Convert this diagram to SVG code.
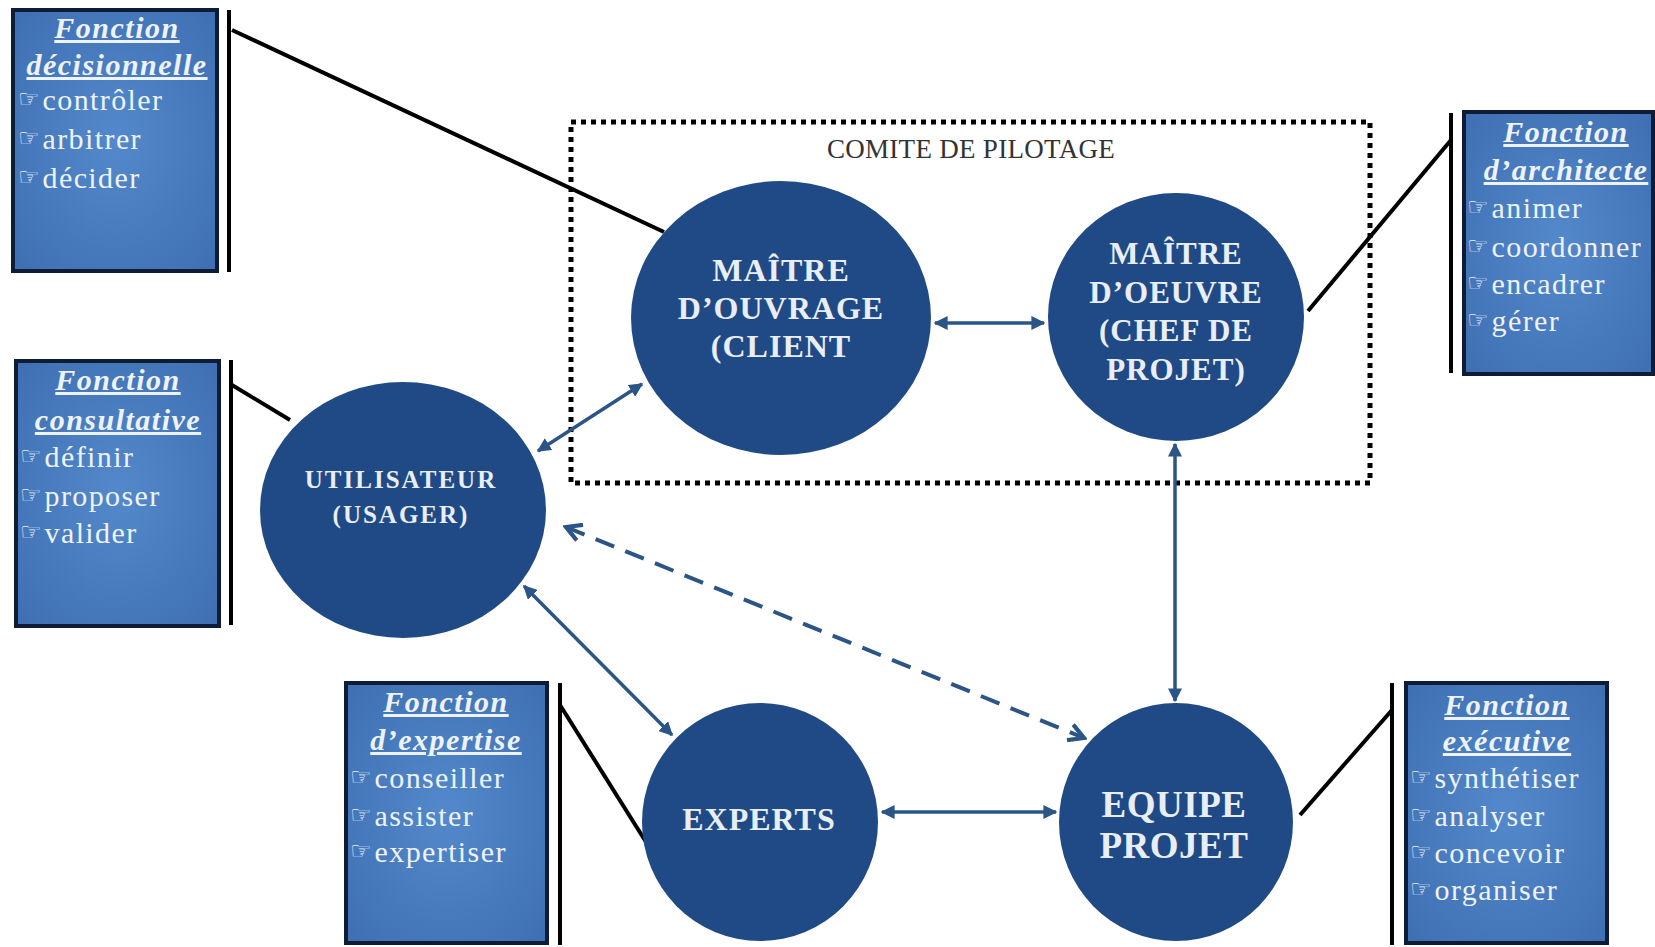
<svg xmlns="http://www.w3.org/2000/svg" width="1655" height="947" viewBox="0 0 1655 947">
<style>
.box{fill:url(#bg);stroke:#0e1c36;stroke-width:4}
.vl{stroke:#000;stroke-width:4}
.blk{stroke:#000;stroke-width:4;fill:none}
.node{fill:#1f4a85}
.ttl{font-family:"Liberation Serif",serif;font-size:30px;font-weight:bold;font-style:italic;fill:#eef3fa;text-decoration:underline;text-anchor:middle;letter-spacing:1.5px}
.itm{font-family:"Liberation Serif",serif;font-size:30px;fill:#eef3fa;letter-spacing:1.4px}
.ic{font-family:"DejaVu Sans",sans-serif;font-size:24px;fill:#eef3fa;letter-spacing:0}
.ct{font-family:"Liberation Serif",serif;font-weight:bold;fill:#e9eef6;text-anchor:middle}
.arr{stroke:#2b5586;stroke-width:3.5;fill:none;marker-start:url(#ah);marker-end:url(#ah)}
.dash{stroke:#2b5586;stroke-width:4;fill:none;stroke-dasharray:20 12;marker-start:url(#oh);marker-end:url(#oh)}
</style>
<defs>
<radialGradient id="bg" cx="50%" cy="50%" r="70%">
<stop offset="0" stop-color="#5389cc"/>
<stop offset="1" stop-color="#3e6fb2"/>
</radialGradient>
<marker id="ah" viewBox="0 0 10 10" refX="9" refY="5" markerWidth="4" markerHeight="4" orient="auto-start-reverse">
<path d="M0,0 L10,5 L0,10 z" fill="#2b5586"/>
</marker>
<marker id="oh" viewBox="0 0 12 12" refX="10" refY="6" markerWidth="5" markerHeight="5" orient="auto-start-reverse">
<path d="M1,1 L10,6 L1,11" fill="none" stroke="#2b5586" stroke-width="2.5"/>
</marker>
</defs>
<rect width="1655" height="947" fill="#fff"/>

<g id="comite">
<rect x="571" y="122" width="799" height="361" fill="none" stroke="#000" stroke-width="5" stroke-dasharray="5 5"/>
<text x="971" y="158" font-family="Liberation Serif, serif" font-size="27" fill="#333" text-anchor="middle" letter-spacing="0.3">COMITE DE PILOTAGE</text>
</g>

<g id="connectors">
<line class="blk" x1="232" y1="30" x2="664" y2="232"/>
<line class="blk" x1="232" y1="385" x2="290" y2="420"/>
<line class="blk" x1="1451" y1="140" x2="1308" y2="311"/>
<line class="blk" x1="560" y1="705" x2="646" y2="842"/>
<line class="blk" x1="1392" y1="710" x2="1300" y2="815"/>
<line class="arr" x1="935" y1="323" x2="1044" y2="323"/>
<line class="arr" x1="538" y1="451" x2="642" y2="384"/>
<line class="arr" x1="524" y1="586" x2="672" y2="735"/>
<line class="arr" x1="882" y1="812" x2="1056" y2="812"/>
<line class="arr" x1="1175" y1="701" x2="1175" y2="444"/>
<line class="dash" x1="566" y1="527" x2="1084" y2="738"/>
</g>

<g id="n-mo">
<ellipse class="node" cx="781" cy="318" rx="150" ry="137"/>
<text class="ct" font-size="32" letter-spacing="1"><tspan x="781" y="281">MAÎTRE</tspan><tspan x="781" y="319">D’OUVRAGE</tspan><tspan x="781" y="357">(CLIENT</tspan></text>
</g>
<g id="n-moe">
<ellipse class="node" cx="1176" cy="317" rx="128" ry="124"/>
<text class="ct" font-size="31" letter-spacing="1"><tspan x="1176" y="264">MAÎTRE</tspan><tspan x="1176" y="303">D’OEUVRE</tspan><tspan x="1176" y="341">(CHEF DE</tspan><tspan x="1176" y="380">PROJET)</tspan></text>
</g>
<g id="n-util">
<ellipse class="node" cx="403" cy="510" rx="143" ry="128"/>
<text class="ct" font-size="25" letter-spacing="2"><tspan x="401" y="488">UTILISATEUR</tspan><tspan x="401" y="523">(USAGER)</tspan></text>
</g>
<g id="n-experts">
<ellipse class="node" cx="760" cy="822" rx="118" ry="119"/>
<text class="ct" font-size="32" letter-spacing="1"><tspan x="759" y="830">EXPERTS</tspan></text>
</g>
<g id="n-equipe">
<ellipse class="node" cx="1176" cy="822" rx="117" ry="119"/>
<text class="ct" font-size="37" letter-spacing="0.5"><tspan x="1174" y="817">EQUIPE</tspan><tspan x="1174" y="858">PROJET</tspan></text>
</g>

<g id="b-decision">
<rect class="box" x="13" y="10" width="204" height="261"/>
<line class="vl" x1="229" y1="10" x2="229" y2="272"/>
<text class="ttl" x="117" y="38">Fonction</text>
<text class="ttl" x="117" y="75">décisionnelle</text>
<text class="itm" x="18" y="110"><tspan class="ic" baseline-shift="3">☞</tspan><tspan dx="3">contrôler</tspan></text>
<text class="itm" x="18" y="149"><tspan class="ic" baseline-shift="3">☞</tspan><tspan dx="3">arbitrer</tspan></text>
<text class="itm" x="18" y="188"><tspan class="ic" baseline-shift="3">☞</tspan><tspan dx="3">décider</tspan></text>
</g>
<g id="b-consult">
<rect class="box" x="16" y="361" width="203" height="265"/>
<line class="vl" x1="231" y1="360" x2="231" y2="625"/>
<text class="ttl" x="118" y="390">Fonction</text>
<text class="ttl" x="118" y="430">consultative</text>
<text class="itm" x="20" y="467"><tspan class="ic" baseline-shift="3">☞</tspan><tspan dx="3">définir</tspan></text>
<text class="itm" x="20" y="506"><tspan class="ic" baseline-shift="3">☞</tspan><tspan dx="3">proposer</tspan></text>
<text class="itm" x="20" y="543"><tspan class="ic" baseline-shift="3">☞</tspan><tspan dx="3">valider</tspan></text>
</g>
<g id="b-archi">
<rect class="box" x="1464" y="112" width="189" height="262"/>
<line class="vl" x1="1451" y1="113" x2="1451" y2="373"/>
<text class="ttl" x="1566" y="142">Fonction</text>
<text class="ttl" x="1566" y="180">d’architecte</text>
<text class="itm" x="1467" y="218"><tspan class="ic" baseline-shift="3">☞</tspan><tspan dx="3">animer</tspan></text>
<text class="itm" x="1467" y="257"><tspan class="ic" baseline-shift="3">☞</tspan><tspan dx="3">coordonner</tspan></text>
<text class="itm" x="1467" y="294"><tspan class="ic" baseline-shift="3">☞</tspan><tspan dx="3">encadrer</tspan></text>
<text class="itm" x="1467" y="331"><tspan class="ic" baseline-shift="3">☞</tspan><tspan dx="3">gérer</tspan></text>
</g>
<g id="b-expert">
<rect class="box" x="346" y="683" width="201" height="260"/>
<line class="vl" x1="560" y1="683" x2="560" y2="945"/>
<text class="ttl" x="446" y="712">Fonction</text>
<text class="ttl" x="446" y="750">d’expertise</text>
<text class="itm" x="350" y="788"><tspan class="ic" baseline-shift="3">☞</tspan><tspan dx="3">conseiller</tspan></text>
<text class="itm" x="350" y="826"><tspan class="ic" baseline-shift="3">☞</tspan><tspan dx="3">assister</tspan></text>
<text class="itm" x="350" y="862"><tspan class="ic" baseline-shift="3">☞</tspan><tspan dx="3">expertiser</tspan></text>
</g>
<g id="b-exec">
<rect class="box" x="1406" y="683" width="201" height="260"/>
<line class="vl" x1="1392" y1="683" x2="1392" y2="945"/>
<text class="ttl" x="1507" y="715">Fonction</text>
<text class="ttl" x="1507" y="751">exécutive</text>
<text class="itm" x="1410" y="788"><tspan class="ic" baseline-shift="3">☞</tspan><tspan dx="3">synthétiser</tspan></text>
<text class="itm" x="1410" y="826"><tspan class="ic" baseline-shift="3">☞</tspan><tspan dx="3">analyser</tspan></text>
<text class="itm" x="1410" y="863"><tspan class="ic" baseline-shift="3">☞</tspan><tspan dx="3">concevoir</tspan></text>
<text class="itm" x="1410" y="900"><tspan class="ic" baseline-shift="3">☞</tspan><tspan dx="3">organiser</tspan></text>
</g>
</svg>
